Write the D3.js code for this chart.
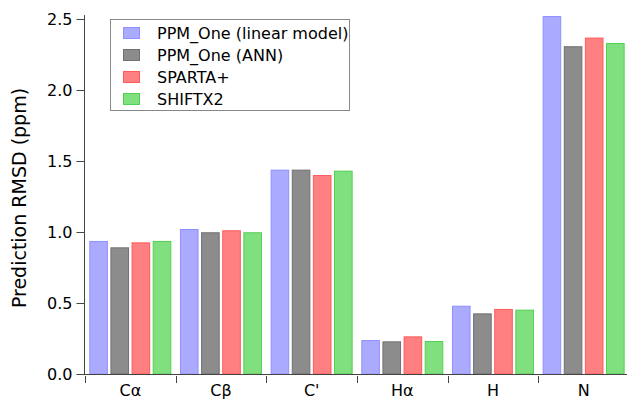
<!DOCTYPE html>
<html>
<head>
<meta charset="utf-8">
<script src="https://cdn.jsdelivr.net/npm/d3@7"></script>
<style>
  body { margin: 0; background: #fff; }
  text { font-family: "DejaVu Sans", Verdana, sans-serif; fill: #000; }
</style>
</head>
<body>
<svg id="chart" width="627" height="399"></svg>
<script>
// categories (nuclei) and methods
const categories = ["Cα", "Cβ", "C'", "Hα", "H", "N"];
const series = ["PPM_One (linear model)", "PPM_One (ANN)", "SPARTA+", "SHIFTX2"];

// RMSD values, one array per method
const linearModel = [0.937, 1.021, 1.439, 0.239, 0.481, 2.521];
const ann         = [0.892, 0.998, 1.439, 0.230, 0.427, 2.308];
const sparta      = [0.927, 1.012, 1.401, 0.265, 0.458, 2.369];
const shiftx2     = [0.937, 0.998, 1.432, 0.232, 0.453, 2.331];

const yTicks = [0, 0.5, 1.0, 1.5, 2.0, 2.5];

const fills   = ["#aaaaff", "#8c8c8c", "#ff8080", "#80e080"];
const strokes = ["#9090ff", "#707070", "#ff5a5a", "#50d050"];

const values = [linearModel, ann, sparta, shiftx2];

const svg = d3.select("#chart");

const y = d3.scaleLinear()
  .domain([0, 2.528])
  .range([374, 15]);

const x = d3.scaleBand()
  .domain(categories)
  .range([85, 629]);

const xSub = d3.scaleBand()
  .domain(series)
  .range([4.3, 86.3])
  .paddingInner(0.12);

// bars
const groups = svg.selectAll(".group")
  .data(categories)
  .enter()
  .append("g")
  .attr("transform", d => `translate(${x(d)},0)`);

groups.selectAll("rect")
  .data((c, ci) => series.map((s, si) => ({ s, si, v: values[si][ci] })))
  .enter()
  .append("rect")
  .attr("x", d => xSub(d.s) + 0.5)
  .attr("y", d => y(d.v) + 0.5)
  .attr("width", xSub.bandwidth() - 1)
  .attr("height", d => y(0) - y(d.v) - 0.5)
  .attr("fill", d => fills[d.si])
  .attr("stroke", d => strokes[d.si])
  .attr("stroke-width", 1);

// baseline
svg.append("line")
  .attr("x1", 84).attr("x2", 627)
  .attr("y1", 374.5).attr("y2", 374.5)
  .attr("stroke", "#444");

// Y axis
const yAxis = svg.append("g")
  .attr("transform", "translate(84.5,0)")
  .call(d3.axisLeft(y).tickValues(yTicks).tickFormat(d3.format(".1f")).tickSize(8).tickPadding(4));
yAxis.select(".domain").attr("stroke", "#444").attr("d", "M0,15V374.5");
yAxis.selectAll(".tick line").attr("stroke", "#444");
yAxis.selectAll("text").style("font-size", "16px");

// X axis: ticks at category boundaries, labels centered
const xAxis = svg.append("g").attr("transform", "translate(0,375)");
xAxis.selectAll("line")
  .data(categories)
  .enter()
  .append("line")
  .attr("x1", d => Math.round(x(d)) + 0.5)
  .attr("x2", d => Math.round(x(d)) + 0.5)
  .attr("y1", 1).attr("y2", 8)
  .attr("stroke", "#444");
xAxis.selectAll("text")
  .data(categories)
  .enter()
  .append("text")
  .attr("x", d => x(d) + x.bandwidth() / 2)
  .attr("y", 21)
  .attr("text-anchor", "middle")
  .style("font-size", "16px")
  .text(d => d);

// Y label
svg.append("text")
  .attr("transform", "rotate(-90)")
  .attr("x", -198)
  .attr("y", 26)
  .attr("text-anchor", "middle")
  .style("font-size", "19px")
  .text("Prediction RMSD (ppm)");

// Legend
const legend = svg.append("g");
legend.append("rect")
  .attr("x", 110.5).attr("y", 19.5)
  .attr("width", 239).attr("height", 91)
  .attr("fill", "#fff")
  .attr("stroke", "#888");

const items = legend.selectAll(".item")
  .data(series)
  .enter()
  .append("g")
  .attr("transform", (d, i) => `translate(0,${i * 22})`);
items.append("rect")
  .attr("x", 123.5).attr("y", 27.5)
  .attr("width", 16).attr("height", 11)
  .attr("fill", (d, i) => fills[i])
  .attr("stroke", (d, i) => strokes[i]);
items.append("text")
  .attr("x", 157)
  .attr("y", 38.5)
  .style("font-size", "16px")
  .text(d => d);
</script>
</body>
</html>
